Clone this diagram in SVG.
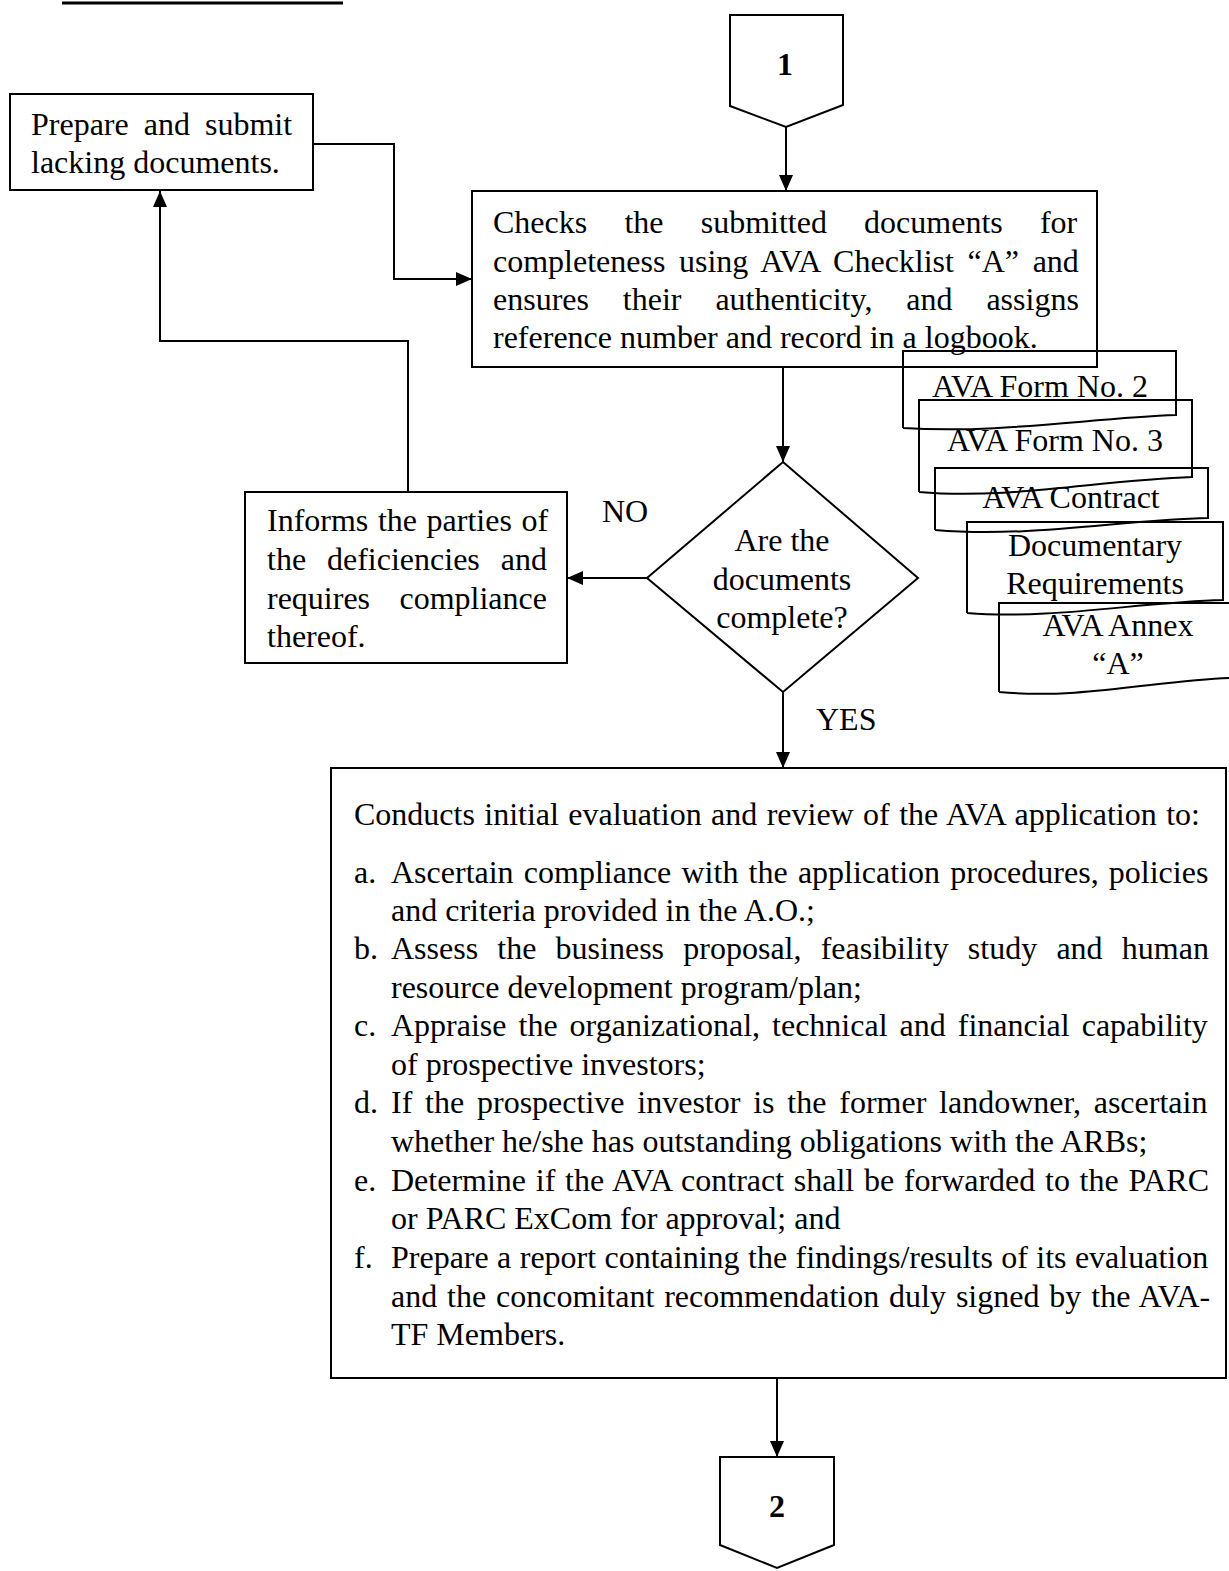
<svg xmlns="http://www.w3.org/2000/svg" width="1229" height="1571" viewBox="0 0 1229 1571">
  <defs>
    <style>
      .box { fill: #fff; stroke: #000; stroke-width: 2; }
      .doc { fill: none; stroke: #000; stroke-width: 2; }
      .edge { fill: none; stroke: #000; stroke-width: 2; }
      text { font-family: "Liberation Serif", "Times New Roman", serif; font-size: 32px; fill: #000; }
      .num { font-weight: bold; text-anchor: middle; }
      .mid { text-anchor: middle; }
    </style>
    <marker id="arrow" markerUnits="userSpaceOnUse" markerWidth="16" markerHeight="18" viewBox="0 0 16 14" refX="16" refY="7" orient="auto">
      <path d="M0,0 L16,7 L0,14 Z" fill="#000"/>
    </marker>
  </defs>
  <rect width="1229" height="1571" fill="#fff"/>

  <!-- heading rule -->
  <line x1="62" y1="3" x2="343" y2="3" stroke="#000" stroke-width="3"/>

  <!-- connectors -->
  <g id="connectors">
    <path class="edge" d="M786,127 V191" marker-end="url(#arrow)"/>
    <path class="edge" d="M313,144 H394 V279 H472" marker-end="url(#arrow)"/>
    <path class="edge" d="M783,367 V462" marker-end="url(#arrow)"/>
    <path class="edge" d="M647,578 H567" marker-end="url(#arrow)"/>
    <path class="edge" d="M408,492 V341 H160 V191" marker-end="url(#arrow)"/>
    <path class="edge" d="M783,692 V768" marker-end="url(#arrow)"/>
    <path class="edge" d="M777,1378 V1457" marker-end="url(#arrow)"/>
  </g>

  <!-- off-page connector 1 -->
  <g id="node-1">
    <polygon class="box" points="730,15 843,15 843,105 786,127 730,106"/>
    <text class="num" x="785" y="75">1</text>
  </g>

  <!-- resubmission -->
  <g id="node-prepare">
    <rect class="box" x="10" y="94" width="303" height="96"/>
    <text x="31" y="135" word-spacing="7">Prepare and submit</text>
    <text x="31" y="173">lacking documents.</text>
  </g>

  <!-- checking step -->
  <g id="node-checks">
    <rect class="box" x="472" y="191" width="625" height="176"/>
    <text x="493" y="233" word-spacing="29.2">Checks the submitted documents for</text>
    <text x="493" y="272" word-spacing="5.6">completeness using AVA Checklist “A” and</text>
    <text x="493" y="310" word-spacing="25.9">ensures their authenticity, and assigns</text>
    <text x="493" y="348">reference number and record in a logbook.</text>
  </g>

  <!-- supporting documents -->
  <g id="node-docs">
    <path class="doc" d="M903,428 V351 H1176 V415 C1090,418 1000,434 903,428"/>
    <text class="mid" x="1040" y="397">AVA Form No. 2</text>
    <path class="doc" d="M919,492 V400 H1192 V477 C1100,480 1010,500 919,492"/>
    <text class="mid" x="1055" y="451">AVA Form No. 3</text>
    <path class="doc" d="M935,530 V468 H1208 V518 C1120,520 1030,538 935,530"/>
    <text class="mid" x="1071" y="508">AVA Contract</text>
    <path class="doc" d="M967,613 V522 H1223 V600 C1140,602 1050,620 967,613"/>
    <text class="mid" x="1095" y="556">Documentary</text>
    <text class="mid" x="1095" y="594">Requirements</text>
    <path class="doc" d="M999,692 V603 H1229 M1229,678 C1160,680 1080,700 999,692"/>
    <text class="mid" x="1118" y="636">AVA Annex</text>
    <text class="mid" x="1118" y="674">“A”</text>
  </g>

  <!-- decision -->
  <g id="node-decision">
    <polygon class="box" points="783,462 918,578 783,692 647,578"/>
    <text class="mid" x="782" y="551">Are the</text>
    <text class="mid" x="782" y="590">documents</text>
    <text class="mid" x="782" y="628">complete?</text>
  </g>
  <text x="602" y="522">NO</text>
  <text x="816" y="730">YES</text>

  <!-- notice of deficiencies -->
  <g id="node-informs">
    <rect class="box" x="245" y="492" width="322" height="171"/>
    <text x="267" y="531" word-spacing="1.6">Informs the parties of</text>
    <text x="267" y="570" word-spacing="12.9">the deficiencies and</text>
    <text x="267" y="609" word-spacing="21.4">requires compliance</text>
    <text x="267" y="647">thereof.</text>
  </g>

  <!-- evaluation step -->
  <g id="node-evaluation">
    <rect class="box" x="331" y="768" width="895" height="610"/>
    <text x="354" y="825" word-spacing="1.4">Conducts initial evaluation and review of the AVA application to:</text>
    <text x="354" y="883">a.</text>
    <text x="391" y="883" word-spacing="2.2">Ascertain compliance with the application procedures, policies</text>
    <text x="391" y="921">and criteria provided in the A.O.;</text>
    <text x="354" y="959">b.</text>
    <text x="391" y="959" word-spacing="11.2">Assess the business proposal, feasibility study and human</text>
    <text x="391" y="998">resource development program/plan;</text>
    <text x="354" y="1036">c.</text>
    <text x="391" y="1036" word-spacing="4">Appraise the organizational, technical and financial capability</text>
    <text x="391" y="1075">of prospective investors;</text>
    <text x="354" y="1113">d.</text>
    <text x="391" y="1113" word-spacing="4.8">If the prospective investor is the former landowner, ascertain</text>
    <text x="391" y="1152">whether he/she has outstanding obligations with the ARBs;</text>
    <text x="354" y="1191">e.</text>
    <text x="391" y="1191" word-spacing="1.7">Determine if the AVA contract shall be forwarded to the PARC</text>
    <text x="391" y="1229">or PARC ExCom for approval; and</text>
    <text x="354" y="1268">f.</text>
    <text x="391" y="1268" word-spacing="0.4">Prepare a report containing the findings/results of its evaluation</text>
    <text x="391" y="1307" word-spacing="1.9">and the concomitant recommendation duly signed by the AVA-</text>
    <text x="391" y="1345">TF Members.</text>
  </g>

  <!-- off-page connector 2 -->
  <g id="node-2">
    <polygon class="box" points="720,1457 834,1457 834,1545 777,1568 720,1545"/>
    <text class="num" x="777" y="1517">2</text>
  </g>
</svg>
